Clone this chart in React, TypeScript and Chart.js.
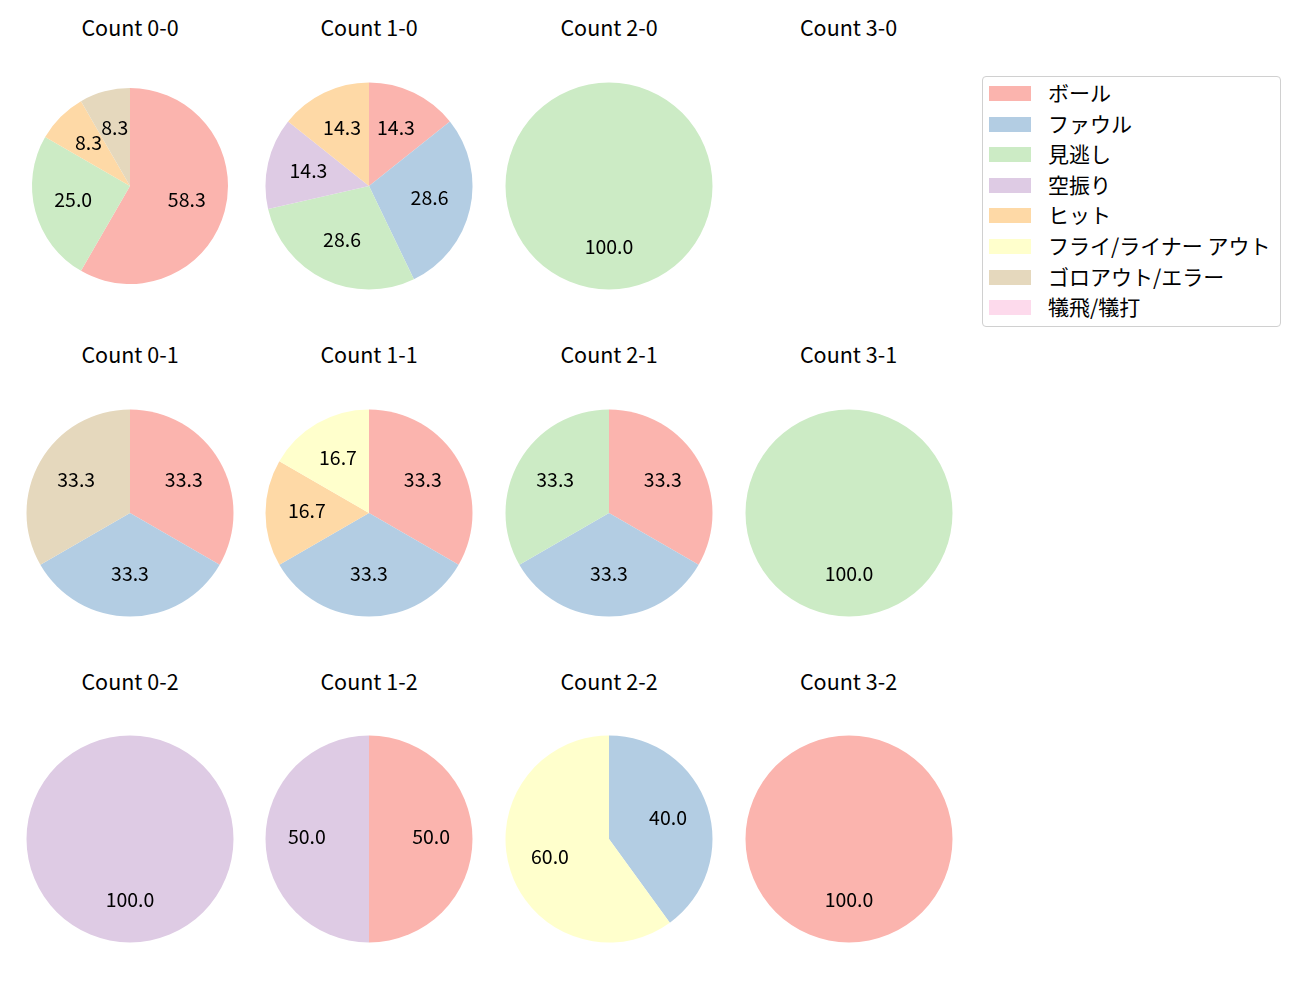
import React, { useEffect, useRef } from "react";
import { Chart, registerables } from "chart.js";

Chart.register(...registerables);

const categories = ["ボール", "ファウル", "見逃し", "空振り", "ヒット", "フライ/ライナー アウト", "ゴロアウト/エラー", "犠飛/犠打"];
const colors = ["#fbb4ae", "#b3cde3", "#ccebc5", "#decbe4", "#fed9a6", "#ffffcc", "#e5d8bd", "#fddaec"];

const titles = [
  "Count 0-0", "Count 1-0", "Count 2-0", "Count 3-0",
  "Count 0-1", "Count 1-1", "Count 2-1", "Count 3-1",
  "Count 0-2", "Count 1-2", "Count 2-2", "Count 3-2",
];

const count00 = [7, 0, 3, 0, 1, 0, 1, 0];
const count10 = [1, 2, 2, 1, 1, 0, 0, 0];
const count20 = [0, 0, 1, 0, 0, 0, 0, 0];
const count30: number[] = [];
const count01 = [1, 1, 0, 0, 0, 0, 1, 0];
const count11 = [2, 2, 0, 0, 1, 1, 0, 0];
const count21 = [1, 1, 1, 0, 0, 0, 0, 0];
const count31 = [0, 0, 1, 0, 0, 0, 0, 0];
const count02 = [0, 0, 0, 1, 0, 0, 0, 0];
const count12 = [1, 0, 0, 1, 0, 0, 0, 0];
const count22 = [0, 2, 0, 0, 0, 3, 0, 0];
const count32 = [1, 0, 0, 0, 0, 0, 0, 0];

const allCounts = [count00, count10, count20, count30, count01, count11, count21, count31, count02, count12, count22, count32];

const FONT = "'Noto Sans CJK JP', 'Noto Sans', sans-serif";
const FS = 21.5;
const LFS = 19.5;
const colX = [130, 369, 609, 848.5];
const rowY = [186, 512.5, 839];
const titleY = [28, 355, 682];
const CANVAS = 240;

const pctLabels = {
  id: "pctLabels",
  afterDatasetsDraw(chart: any) {
    const ctx = chart.ctx;
    const meta = chart.getDatasetMeta(0);
    const data = chart.data.datasets[0].data as number[];
    const total = data.reduce((a, b) => a + b, 0);
    ctx.save();
    ctx.font = `${LFS}px ${FONT}`;
    ctx.fillStyle = "#000";
    ctx.textAlign = "center";
    ctx.textBaseline = "middle";
    meta.data.forEach((arc: any, i: number) => {
      if (!data[i]) return;
      const p = arc.getProps(["x", "y", "startAngle", "endAngle", "outerRadius"], true);
      const mid = (p.startAngle + p.endAngle) / 2;
      const r = p.outerRadius * 0.6;
      const x = p.x + Math.cos(mid) * r;
      const y = p.y + Math.sin(mid) * r - 2;
      ctx.fillText(((data[i] / total) * 100).toFixed(1), x, y);
    });
    ctx.restore();
  },
};

function Pie({ values, radius }: { values: number[]; radius: number }) {
  const ref = useRef<HTMLCanvasElement>(null);
  useEffect(() => {
    if (!ref.current) return;
    const pad = CANVAS / 2 - radius;
    const chart = new Chart(ref.current, {
      type: "pie",
      data: {
        labels: categories,
        datasets: [{ data: values, backgroundColor: colors, borderWidth: 0 }],
      },
      options: {
        responsive: false,
        animation: false,
        layout: { padding: pad },
        events: [],
        plugins: { legend: { display: false }, tooltip: { enabled: false } },
      },
      plugins: [pctLabels],
    });
    return () => chart.destroy();
  }, [values, radius]);
  return <canvas ref={ref} width={CANVAS} height={CANVAS} style={{ width: CANVAS, height: CANVAS }} />;
}

export default function App() {
  return (
    <div style={{ position: "absolute", left: 0, top: 0, width: 1300, height: 1000, background: "#fff", fontFamily: FONT }}>
      {titles.map((t, i) => {
        const c = i % 4;
        const r = Math.floor(i / 4);
        const vals = allCounts[i];
        return (
          <React.Fragment key={t}>
            <div
              style={{
                position: "absolute",
                left: colX[c] - 80,
                width: 160,
                top: titleY[r] - 16,
                height: 30,
                lineHeight: "30px",
                textAlign: "center",
                fontSize: FS,
                color: "#000",
              }}
            >
              {t}
            </div>
            {vals.length > 0 && (
              <div style={{ position: "absolute", left: colX[c] - CANVAS / 2, top: rowY[r] - CANVAS / 2, width: CANVAS, height: CANVAS }}>
                <Pie values={vals} radius={i === 0 ? 98 : 103.5} />
              </div>
            )}
          </React.Fragment>
        );
      })}
      <div
        style={{
          position: "absolute",
          left: 982,
          top: 76,
          width: 297,
          height: 249,
          border: "1px solid #d0d0d0",
          borderRadius: 4,
          background: "#fff",
        }}
      >
        {categories.map((cat, i) => (
          <div key={cat} style={{ position: "absolute", left: 0, top: 16 + i * 30.6 - 15, height: 30, width: 297 }}>
            <div style={{ position: "absolute", left: 6, top: 8, width: 42, height: 15, background: colors[i] }} />
            <div style={{ position: "absolute", left: 65, top: -1, lineHeight: "30px", fontSize: FS - 0.5, color: "#000", whiteSpace: "nowrap" }}>{cat}</div>
          </div>
        ))}
      </div>
    </div>
  );
}
